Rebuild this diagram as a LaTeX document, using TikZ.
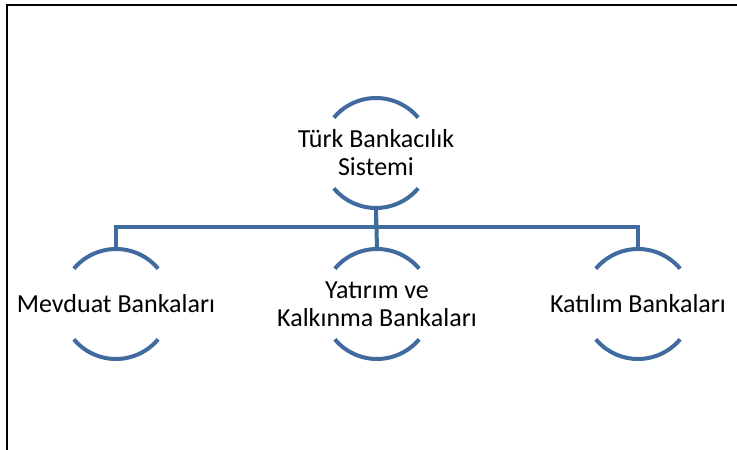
\documentclass[tikz,border=0pt]{standalone}
\usepackage{fontspec}
\setmainfont{Carlito}
\usetikzlibrary{calc}
\definecolor{smartblue}{HTML}{3F6B9E}
\tikzset{
  bubble/.style={rectangle, inner sep=0pt, minimum height=110pt, align=center,
    font=\fontsize{26}{28}\selectfont},
  arcline/.style={draw=smartblue, line width=4pt},
  link/.style={draw=smartblue, line width=4pt},
}

\begin{document}
\begin{tikzpicture}[x=1pt,y=1pt]
  \useasboundingbox (0,0) rectangle (737,450);
  % frame
  \draw[line width=2.5pt] (7,-2) -- (7,445) -- (740,445);
  % nodes
  \node[bubble] (sistem) at (376,297) {Türk Bankacılık\\Sistemi};
  \node[bubble] (mevduat) at (116,146) {Mevduat Bankaları};
  \node[bubble] (yatirim) at (377,146) {Yatırım ve\\Kalkınma Bankaları};
  \node[bubble] (katilim) at (638,146) {Katılım Bankaları};
  % arcs round each node
  \foreach \n in {sistem,mevduat,yatirim,katilim}{
    \draw[arcline] (\n.center) ++(40:55) arc[start angle=40,end angle=140,radius=55];
    \draw[arcline] (\n.center) ++(220:55) arc[start angle=220,end angle=320,radius=55];
  }
  % connectors
  \draw[link] (sistem.south) -- ++(0,-19) coordinate (bar) -| (mevduat.north);
  \draw[link] (bar) -| (katilim.north);
  \draw[link] (sistem.south) -- (yatirim.north);
\end{tikzpicture}
\end{document}
